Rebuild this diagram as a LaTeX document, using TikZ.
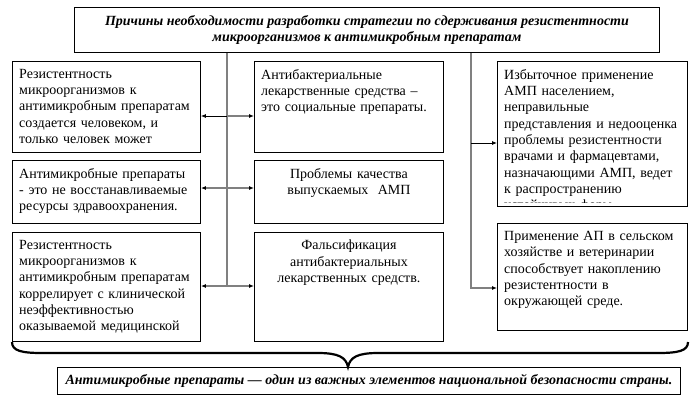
\documentclass[tikz,border=0pt]{standalone}
\usepackage{fontspec}
\setmainfont{Liberation Serif}
\usetikzlibrary{arrows.meta}

\tikzset{
  box/.style={draw, line width=0.9pt, inner sep=0pt, anchor=north west},
  txt/.style={anchor=north west, inner xsep=7pt, inner ysep=8pt, text width=#1, align=left,
    font=\fontsize{14}{16.3}\selectfont},
  ctxt/.style={anchor=north, inner xsep=0pt, inner ysep=8pt, text width=#1, align=center,
    font=\fontsize{14}{16.3}\selectfont},
  bold/.style={font=\fontsize{14}{16.5}\selectfont\bfseries\itshape},
  link/.style={draw=black!50, line width=1.3pt},
  thin/.style={draw=black, line width=0.8pt},
  tip/.style={-{Latex[length=5pt,width=4pt,color=black]}},
  twotip/.style={{Latex[length=5pt,width=4pt,color=black]}-{Latex[length=5pt,width=4pt,color=black]}}
}

\begin{document}
\begin{tikzpicture}[x=1pt,y=-1pt]
  \useasboundingbox (0,0) rectangle (697,400);

  \node[box, minimum width=585pt, minimum height=45pt, align=center, bold] (title) at (74,7)
    {Причины необходимости разработки стратегии по сдерживания резистентности\\
     микроорганизмов к антимикробным препаратам};

  \node[box, minimum width=188pt, minimum height=91pt] (lb1) at (12,61) {};
  \node[box, minimum width=188pt, minimum height=63pt] (lb2) at (12,160) {};
  \node[box, minimum width=188pt, minimum height=109pt] (lb3) at (12,232) {};
  \node[box, minimum width=189pt, minimum height=91pt] (mb1) at (254,61) {};
  \node[box, minimum width=189pt, minimum height=63pt] (mb2) at (254,160) {};
  \node[box, minimum width=189pt, minimum height=109pt] (mb3) at (254,232) {};
  \node[box, minimum width=190pt, minimum height=145pt] (rb1) at (497,61) {};
  \node[box, minimum width=190pt, minimum height=107pt] (rb2) at (497,223) {};

  \node[txt=180pt] (lb1t) at (lb1.north west)
    {Резистентность\\ микроорганизмов к\\ антимикробным препаратам\\ создается человеком, и\\ только человек может};
  \node[txt=180pt] (lb2t) at (lb2.north west)
    {Антимикробные препараты\\ - это не восстанавливаемые\\ ресурсы здравоохранения.};
  \node[txt=180pt] (lb3t) at (lb3.north west)
    {Резистентность\\ микроорганизмов к\\ антимикробным препаратам\\ коррелирует с клинической\\ неэффективностью\\ оказываемой медицинской};
  \node[txt=180pt] (mb1t) at (mb1.north west)
    {Антибактериальные\\ лекарственные средства --\\ это социальные препараты.};
  \node[ctxt=180pt] (mb2t) at (mb2.north)
    {Проблемы качества\\ выпускаемых\ \ АМП};
  \node[ctxt=180pt] (mb3t) at (mb3.north)
    {Фальсификация\\ антибактериальных\\ лекарственных средств.};
  \begin{scope}
    \clip (rb1.north west) rectangle ([yshift=4pt]rb1.south east);
    \node[txt=180pt] (rb1t) at (rb1.north west)
      {Избыточное применение\\ АМП населением,\\ неправильные\\ представления и недооценка\\ проблемы резистентности\\ врачами и фармацевтами,\\ назначающими АМП, ведет\\ к распространению\\ устойчивых форм};
  \end{scope}
  \node[txt=180pt] (rb2t) at (rb2.north west)
    {Применение АП в сельском\\ хозяйстве и ветеринарии\\ способствует накоплению\\ резистентности в\\ окружающей среде.};

  \coordinate (busL) at (227,0);
  \coordinate (busR) at (471,0);
  \coordinate (r1) at (0,116);
  \coordinate (r2) at (0,188);
  \coordinate (r3) at (0,286);
  \coordinate (r4) at (0,143);
  \coordinate (r5) at (0,288);

  \draw[link] (title.south -| busL) -- (busL |- r3);
  \draw[thin, {Latex[length=5pt,width=4pt]}-] (lb1.east |- r1) -- (busL |- r1);
  \draw[link, tip] (busL |- r1) -- (mb1.west |- r1);
  \draw[link, twotip] (lb2.east |- r2) -- (mb2.west |- r2);
  \draw[link, twotip] (lb3.east |- r3) -- (mb3.west |- r3);
  \draw[link, tip] (title.south -| busR) |- (rb2.west |- r5);
  \draw[thin, tip] (busR |- r4) -- (rb1.west |- r4);

  \draw[line width=2.2pt] (12,342) .. controls (12,351) and (22,353) .. (42,353) -- (318,353)
    .. controls (338,353) and (346,357) .. (348,367)
    .. controls (350,357) and (358,353) .. (378,353) -- (658,353)
    .. controls (678,353) and (688,351) .. (688,342);

  \node[box, minimum width=623pt, minimum height=27pt, bold] (concl) at (57,367)
    {Антимикробные препараты --- один из важных элементов национальной безопасности страны.};
\end{tikzpicture}
\end{document}
